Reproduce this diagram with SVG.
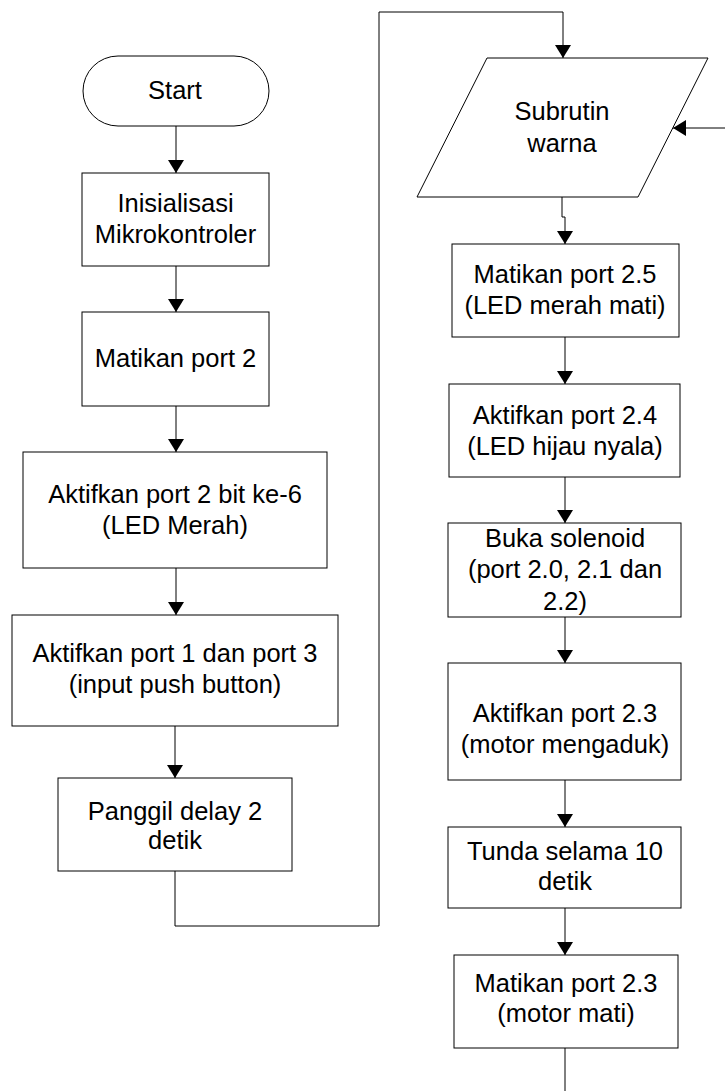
<svg xmlns="http://www.w3.org/2000/svg" width="725" height="1091" viewBox="0 0 725 1091">
  <style>
    .shape { fill: #ffffff; stroke: #000000; stroke-width: 1; }
    .lbl { font-family: "Liberation Sans", Arial, sans-serif; font-size: 25.5px; fill: #000000; text-anchor: middle; }
    .wire { fill: none; stroke: #000000; stroke-width: 1; }
  </style>
  <defs>
    <marker id="arrow" viewBox="0 0 13 16" refX="13" refY="8" markerWidth="13" markerHeight="16" markerUnits="userSpaceOnUse" orient="auto">
      <path d="M0,0 L13,8 L0,16 z" fill="#000000"/>
    </marker>
  </defs>
  <rect width="725" height="1091" fill="#ffffff"/>

  <!-- connectors -->
  <g id="connectors">
    <line class="wire" x1="176" y1="126" x2="176" y2="173" marker-end="url(#arrow)"/>
    <line class="wire" x1="176" y1="266" x2="176" y2="312" marker-end="url(#arrow)"/>
    <line class="wire" x1="176" y1="406" x2="176" y2="452" marker-end="url(#arrow)"/>
    <line class="wire" x1="176" y1="568" x2="176" y2="615" marker-end="url(#arrow)"/>
    <line class="wire" x1="175" y1="726" x2="175" y2="778" marker-end="url(#arrow)"/>
    <polyline class="wire" points="175,871 175,926 379,926 379,12 563,12 563,58" marker-end="url(#arrow)"/>
    <line class="wire" x1="725" y1="128" x2="673" y2="128" marker-end="url(#arrow)"/>
    <polyline class="wire" points="562,197 562,217 565,217 565,244" marker-end="url(#arrow)"/>
    <line class="wire" x1="565" y1="337" x2="565" y2="384" marker-end="url(#arrow)"/>
    <line class="wire" x1="565" y1="477" x2="565" y2="523" marker-end="url(#arrow)"/>
    <line class="wire" x1="565" y1="617" x2="565" y2="663" marker-end="url(#arrow)"/>
    <line class="wire" x1="565" y1="780" x2="565" y2="827" marker-end="url(#arrow)"/>
    <line class="wire" x1="565" y1="908" x2="565" y2="955" marker-end="url(#arrow)"/>
    <line class="wire" x1="565" y1="1048" x2="565" y2="1091"/>
  </g>

  <!-- left column -->
  <g id="start">
    <rect class="shape" x="83" y="56" width="186" height="70" rx="35" ry="35"/>
    <text class="lbl" x="175" y="99">Start</text>
  </g>
  <g id="init">
    <rect class="shape" x="82" y="173" width="187" height="93"/>
    <text class="lbl" x="175.5" y="212">Inisialisasi</text>
    <text class="lbl" x="175.5" y="243">Mikrokontroler</text>
  </g>
  <g id="port2-off">
    <rect class="shape" x="82" y="312" width="187" height="94"/>
    <text class="lbl" x="175.5" y="367">Matikan port 2</text>
  </g>
  <g id="port2-bit6">
    <rect class="shape" x="23" y="452" width="304" height="116"/>
    <text class="lbl" x="175" y="503">Aktifkan port 2 bit ke-6</text>
    <text class="lbl" x="175" y="534">(LED Merah)</text>
  </g>
  <g id="port1-port3">
    <rect class="shape" x="12" y="615" width="326" height="111"/>
    <text class="lbl" x="175" y="662">Aktifkan port 1 dan port 3</text>
    <text class="lbl" x="175" y="693">(input push button)</text>
  </g>
  <g id="delay2">
    <rect class="shape" x="58" y="778" width="234" height="93"/>
    <text class="lbl" x="175" y="820">Panggil delay 2</text>
    <text class="lbl" x="175" y="849">detik</text>
  </g>

  <!-- right column -->
  <g id="subrutin">
    <polygon class="shape" points="487,58 708,58 638,197 417,197"/>
    <text class="lbl" x="562" y="120">Subrutin</text>
    <text class="lbl" x="562" y="152">warna</text>
  </g>
  <g id="port25-off">
    <rect class="shape" x="452" y="244" width="227" height="93"/>
    <text class="lbl" x="565" y="283">Matikan port 2.5</text>
    <text class="lbl" x="565" y="314">(LED merah mati)</text>
  </g>
  <g id="port24-on">
    <rect class="shape" x="449" y="384" width="231" height="93"/>
    <text class="lbl" x="565" y="424">Aktifkan port 2.4</text>
    <text class="lbl" x="565" y="455">(LED hijau nyala)</text>
  </g>
  <g id="solenoid">
    <rect class="shape" x="448" y="523" width="233" height="94"/>
    <text class="lbl" x="565" y="547">Buka solenoid</text>
    <text class="lbl" x="565" y="578">(port 2.0, 2.1 dan</text>
    <text class="lbl" x="565" y="610">2.2)</text>
  </g>
  <g id="motor-on">
    <rect class="shape" x="448" y="663" width="233" height="117"/>
    <text class="lbl" x="565" y="722">Aktifkan port 2.3</text>
    <text class="lbl" x="565" y="753">(motor mengaduk)</text>
  </g>
  <g id="delay10">
    <rect class="shape" x="448" y="827" width="233" height="81"/>
    <text class="lbl" x="565" y="860">Tunda selama 10</text>
    <text class="lbl" x="565" y="890">detik</text>
  </g>
  <g id="motor-off">
    <rect class="shape" x="454" y="955" width="224" height="93"/>
    <text class="lbl" x="566" y="992">Matikan port 2.3</text>
    <text class="lbl" x="566" y="1022">(motor mati)</text>
  </g>
</svg>
